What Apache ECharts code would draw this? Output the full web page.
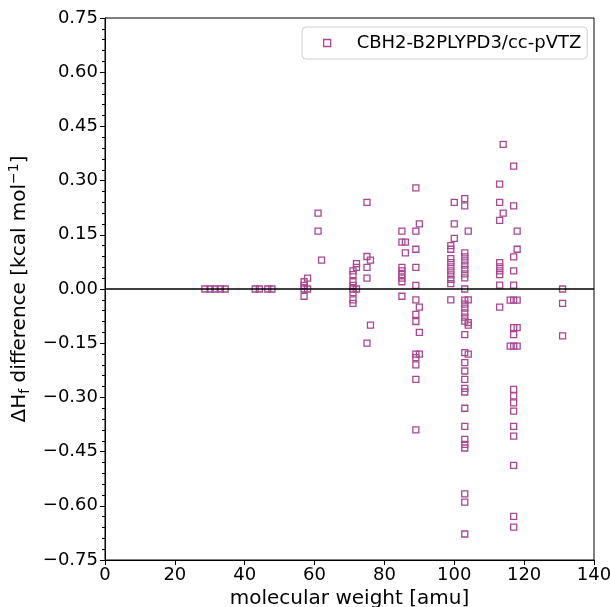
<!DOCTYPE html>
<html>
<head>
<meta charset="utf-8">
<script src="https://cdn.jsdelivr.net/npm/echarts@6/dist/echarts.min.js"></script>
<style>
html,body{margin:0;padding:0;background:#fff;}
#chart{width:610px;height:607px;}
</style>
</head>
<body>
<div id="chart"></div>
<script>
// ---- data: [molecular weight (amu), ΔHf difference (kcal/mol)] ----
const cluster30 = [[28.6,0],[30.1,0],[31.5,0],[33.0,0],[34.4,0]];
const cluster45 = [[43,0],[44.2,0],[46.6,0],[47.8,0]];
const cluster60 = [[57,0.02],[57,0.01],[57,0.0],[57,-0.02],[58,0.03],[58,0.0],
                   [61,0.21],[61,0.16],[62,0.08]];
const cluster73 = [[71,0.05],[71,0.04],[71,0.02],[71,0.01],[71,0.0],[71,-0.01],[71,-0.03],[71,-0.04],
                   [72,0.07],[72,0.06],[72,0.0],
                   [75,0.24],[75,0.09],[75,0.06],[75,0.03],[75,-0.15],
                   [76,0.08],[76,-0.10]];
const cluster87 = [[85,0.16],[85,0.13],[85,0.06],[85,0.05],[85,0.04],[85,0.03],[85,0.02],[85,-0.02],
                   [86,0.13],[86,0.10],
                   [89,0.28],[89,0.16],[89,0.11],[89,0.06],[89,0.01],[89,-0.03],[89,-0.07],[89,-0.09],
                   [89,-0.18],[89,-0.19],[89,-0.21],[89,-0.25],[89,-0.39],
                   [90,0.18],[90,-0.05],[90,-0.12],[90,-0.18]];
const cluster101 = [[100,0.24],[100,0.18],[100,0.14],
                    [99,0.12],[99,0.11],[99,0.084],[99,0.073],[99,0.061],[99,0.05],[99,0.039],[99,0.027],[99,0.015],[99,-0.03],
                    [103,0.25],[103,0.23],[104,0.16],
                    [103,0.10],[103,0.089],[103,0.078],[103,0.066],[103,0.054],[103,0.042],[103,0.031],[103,0.0],
                    [103,-0.031],[103,-0.042],[103,-0.053],[103,-0.066],[103,-0.078],[103,-0.089],
                    [104,-0.03],[104,-0.093],[104,-0.10],
                    [103,-0.126],[103,-0.176],[104,-0.18],[103,-0.204],[103,-0.227],[103,-0.25],
                    [103,-0.275],[103,-0.285],[103,-0.33],[103,-0.38],[103,-0.416],[103,-0.43],[103,-0.44],
                    [103,-0.567],[103,-0.59],[103,-0.678]];
const cluster116 = [[113,0.29],[113,0.24],[113,0.19],[113,0.073],[113,0.061],[113,0.05],[113,0.04],[113,0.011],[113,-0.05],
                    [114,0.40],[114,0.21],
                    [117,0.34],[117,0.23],[117,0.089],[117,0.05],[117,0.011],[117,-0.031],[117,-0.107],[117,-0.126],
                    [117,-0.158],[117,-0.278],[117,-0.296],[117,-0.315],[117,-0.338],[117,-0.38],[117,-0.407],
                    [117,-0.488],[117,-0.629],[117,-0.659],
                    [118,0.16],[118,0.11],[118,-0.031],[118,-0.107],[118,-0.158],
                    [116,-0.031],[116,-0.158]];
const cluster131 = [[131,0.0],[131,-0.04],[131,-0.13]];

const seriesName = 'CBH2-B2PLYPD3/cc-pVTZ';
const xTicks = {min: 0, max: 140, interval: 20};
const yTicks = {min: -0.75, max: 0.75, interval: 0.15};

const allPoints = [].concat(cluster30, cluster45, cluster60, cluster73, cluster87, cluster101, cluster116, cluster131);

const FONT = 'DejaVu Sans';
const MARK = '#ab4693';

const chart = echarts.init(document.getElementById('chart'), null, {renderer: 'canvas'});
chart.setOption({
  animation: false,
  backgroundColor: '#fff',
  grid: {left: 105, right: 16, top: 18, bottom: 47, containLabel: false, outerBoundsMode: 'none',
         show: true, borderColor: '#000', borderWidth: 1, backgroundColor: 'transparent'},
  legend: {
    show: true,
    data: [seriesName],
    left: 302, top: 27,
    orient: 'horizontal',
    icon: 'rect',
    itemWidth: 7, itemHeight: 7,
    itemStyle: {color: 'transparent', borderColor: MARK, borderWidth: 1.3},
    padding: [7, 6, 7, 21],
    backgroundColor: '#fff',
    borderColor: '#d0d0d0', borderWidth: 1, borderRadius: 4,
    formatter: '{n|{name}}',
    textStyle: {rich: {n: {fontFamily: FONT, fontSize: 18, color: '#000', padding: [0, 0, 0, 21]}}}
  },
  xAxis: {
    type: 'value', min: xTicks.min, max: xTicks.max, interval: xTicks.interval,
    name: 'molecular weight [amu]', nameLocation: 'middle', nameGap: 27,
    nameTextStyle: {fontFamily: FONT, fontSize: 20, color: '#000'},
    axisLine: {show: true, onZero: false, lineStyle: {color: '#000', width: 1}},
    axisTick: {show: true, length: 5, lineStyle: {color: '#000'}},
    minorTick: {show: false},
    axisLabel: {fontFamily: FONT, fontSize: 18, color: '#000', margin: 6},
    splitLine: {show: false}
  },
  yAxis: {
    type: 'value', min: yTicks.min, max: yTicks.max, interval: yTicks.interval,
    name: '{a|ΔH}{s|f}{a| difference [kcal mol}{p|−1}{a|]}',
    nameLocation: 'middle', nameGap: 66, nameRotate: 90,
    nameTextStyle: {
      color: '#000',
      rich: {
        a: {fontFamily: FONT, fontSize: 20, color: '#000', lineHeight: 25},
        s: {fontFamily: FONT, fontSize: 14, color: '#000', lineHeight: 14, verticalAlign: 'bottom'},
        p: {fontFamily: FONT, fontSize: 14, color: '#000', lineHeight: 14, verticalAlign: 'top'}
      }
    },
    axisLine: {show: true, onZero: false, lineStyle: {color: '#000', width: 1}},
    axisTick: {show: true, length: 5, lineStyle: {color: '#000'}},
    minorTick: {show: true, splitNumber: 5, length: 3, lineStyle: {color: '#000'}},
    axisLabel: {fontFamily: FONT, fontSize: 18, color: '#000', margin: 7,
      formatter: v => (v < 0 ? '−' : '') + Math.abs(v).toFixed(2)},
    splitLine: {show: false}
  },
  series: [{
    name: seriesName,
    type: 'scatter',
    data: allPoints,
    symbol: 'rect',
    symbolSize: 6,
    itemStyle: {color: 'transparent', borderColor: MARK, borderWidth: 1.3, opacity: 1},
    markLine: {
      silent: true, symbol: ['none', 'none'],
      label: {show: false},
      lineStyle: {color: '#000', width: 1.5, type: 'solid'},
      data: [{yAxis: 0}]
    }
  }]
});
</script>
</body>
</html>
